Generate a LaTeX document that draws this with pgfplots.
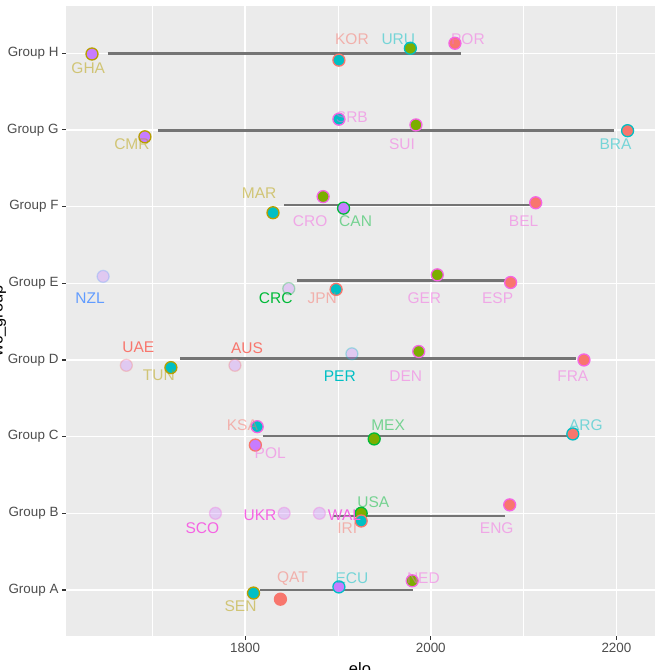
\documentclass[border=0pt]{standalone}
\usepackage{fontspec}
\setmainfont{Liberation Sans}
\usepackage{pgfplots}
\pgfplotsset{compat=1.18}

\definecolor{panel}{HTML}{EBEBEB}
\definecolor{cAFC}{HTML}{F8766D}
\definecolor{cCAF}{HTML}{B79F00}
\definecolor{cCON}{HTML}{00BA38}
\definecolor{cSA}{HTML}{00BFC4}
\definecolor{cOFC}{HTML}{619CFF}
\definecolor{cUEFA}{HTML}{F564E3}
\definecolor{p1}{HTML}{F8766D}
\definecolor{p2}{HTML}{7CAE00}
\definecolor{p3}{HTML}{00BFC4}
\definecolor{p4}{HTML}{C77CFF}
\definecolor{segc}{HTML}{747474}

\newcommand\lablfont{\fontsize{15.5}{16}\selectfont}

\pgfplotsset{
  seg/.style={no marks, forget plot, draw=segc, line width=2.6pt},
  pt/.style 2 args={only marks, mark=*, forget plot, mark size=6pt,
     mark options={fill=#1, draw=#2, line width=1.3pt}},
  fpt/.style={only marks, mark=*, forget plot, mark size=6pt,
     mark options={fill=p4, draw=#1, line width=1.3pt, opacity=0.3}},
  lab/.style 2 args={only marks, mark=none, forget plot, nodes near coords,
     point meta=explicit symbolic,
     nodes near coords style={text=#1, text opacity=#2, font=\lablfont, anchor=center, inner sep=0pt}},
}

\begin{document}
\begin{tikzpicture}[x=1pt,y=1pt]
\useasboundingbox (0,0) rectangle (657,670);
\begin{axis}[
  at={(66pt,34pt)}, anchor=south west,
  scale only axis, width=588.5pt, height=630.3pt,
  xmin=1607, xmax=2241, ymin=0.4, ymax=8.62,
  axis background/.style={fill=panel},
  axis line style={draw=none},
  xtick={1800,2000,2200}, minor xtick={1700,1900,2100},
  ytick={1,2,3,4,5,6,7,8},
  yticklabels={Group A,Group B,Group C,Group D,Group E,Group F,Group G,Group H},
  xtick pos=bottom, ytick pos=left,
  grid=both,
  major grid style={white, line width=1.4pt},
  minor grid style={white, line width=0.7pt},
  tick align=outside, major tick length=4pt, minor tick length=0pt,
  tick style={line width=1.1pt, draw=black!80},
  ticklabel style={font=\fontsize{13.4}{14}\selectfont, text=black!70},
  /pgf/number format/assume math mode=true,
  /pgf/number format/set thousands separator={},
]
% segments
\addplot[seg] coordinates {(1652,8) (2032,8)};
\addplot[seg] coordinates {(1706,6.99) (2197,6.99)};
\addplot[seg] coordinates {(1842,6.02) (2109,6.02)};
\addplot[seg] coordinates {(1856,5.035) (2080,5.035)};
\addplot[seg] coordinates {(1730,4.02) (2156,4.02)};
\addplot[seg] coordinates {(1819,3.01) (2147,3.01)};
\addplot[seg] coordinates {(1895,1.965) (2080,1.965)};
\addplot[seg] coordinates {(1816,1.0) (1981,1.0)};

% faded points (not yet decided)
\addplot[fpt=cOFC] coordinates {(1647,5.09)};
\addplot[fpt=cCON] coordinates {(1847,4.93)};
\addplot[fpt=cAFC] coordinates {(1672,3.93) (1789,3.93)};
\addplot[fpt=cSA] coordinates {(1915,4.08)};
\addplot[fpt=cUEFA] coordinates {(1768,2.0) (1842,2.0) (1880,2.0)};

% qualified points
\addplot[pt={p1}{cUEFA}] coordinates {(2026,8.13) (2113,6.05) (2086,5.01) (2165,4.0) (2085,2.11)};
\addplot[pt={p1}{cSA}] coordinates {(2212,6.99) (2153,3.035)};
\addplot[pt={p1}{cAFC}] coordinates {(1838,0.88)};
\addplot[pt={p2}{cSA}] coordinates {(1978,8.065)};
\addplot[pt={p2}{cUEFA}] coordinates {(1984,7.065) (1884,6.13) (2007,5.11) (1987,4.11) (1980,1.12)};
\addplot[pt={p2}{cCON}] coordinates {(1939,2.97) (1925,2.0)};
\addplot[pt={p3}{cAFC}] coordinates {(1901,7.91) (1898,4.92) (1925,1.9)};
\addplot[pt={p3}{cUEFA}] coordinates {(1901,7.14) (1813,3.13)};
\addplot[pt={p3}{cCAF}] coordinates {(1830,5.92) (1720,3.90) (1809,0.96)};
\addplot[pt={p4}{cCAF}] coordinates {(1635,7.99) (1692,6.91)};
\addplot[pt={p4}{cCON}] coordinates {(1906,5.98)};
\addplot[pt={p4}{cAFC}] coordinates {(1811,2.89)};
\addplot[pt={p4}{cSA}] coordinates {(1901,1.04)};

% labels
\addplot[lab={cAFC}{0.5}] table[meta=t] {
x y t
1915 8.18 KOR
1883 4.81 JPN
1797 3.15 KSA
1910 1.80 IRI
1851 1.15 QAT
};
\addplot[lab={cAFC}{1}] table[meta=t] {
x y t
1685 4.16 UAE
1802 4.16 AUS
};
\addplot[lab={cCAF}{0.5}] table[meta=t] {
x y t
1631 7.81 GHA
1678 6.81 CMR
1815 6.175 MAR
1707 3.795 TUN
1795 0.795 SEN
};
\addplot[lab={cCON}{0.5}] table[meta=t] {
x y t
1919 5.81 CAN
1954 3.15 MEX
1938 2.15 USA
};
\addplot[lab={cCON}{1}] table[meta=t] {
x y t
1833 4.81 CRC
};
\addplot[lab={cSA}{0.5}] table[meta=t] {
x y t
1965 8.18 URU
2199 6.81 BRA
2167 3.15 ARG
1915 1.15 ECU
};
\addplot[lab={cSA}{1}] table[meta=t] {
x y t
1902 3.795 PER
};
\addplot[lab={cOFC}{1}] table[meta=t] {
x y t
1633 4.81 NZL
};
\addplot[lab={cUEFA}{0.5}] table[meta=t] {
x y t
2040 8.18 POR
1915 7.16 SRB
1969 6.81 SUI
1870 5.81 CRO
2100 5.81 BEL
1993 4.81 GER
2072 4.81 ESP
1973 3.795 DEN
2153 3.795 FRA
1827 2.79 POL
2071 1.80 ENG
1992 1.15 NED
};
\addplot[lab={cUEFA}{1}] table[meta=t] {
x y t
1754 1.80 SCO
1816 1.98 UKR
1907 1.98 WAL
};
\end{axis}
\node[rotate=90, anchor=base, font=\fontsize{16.5}{18}\selectfont] at (2.5,349) {wc\_group};
\node[anchor=base, font=\fontsize{16.5}{18}\selectfont] at (360,-5) {elo};
\end{tikzpicture}
\end{document}
